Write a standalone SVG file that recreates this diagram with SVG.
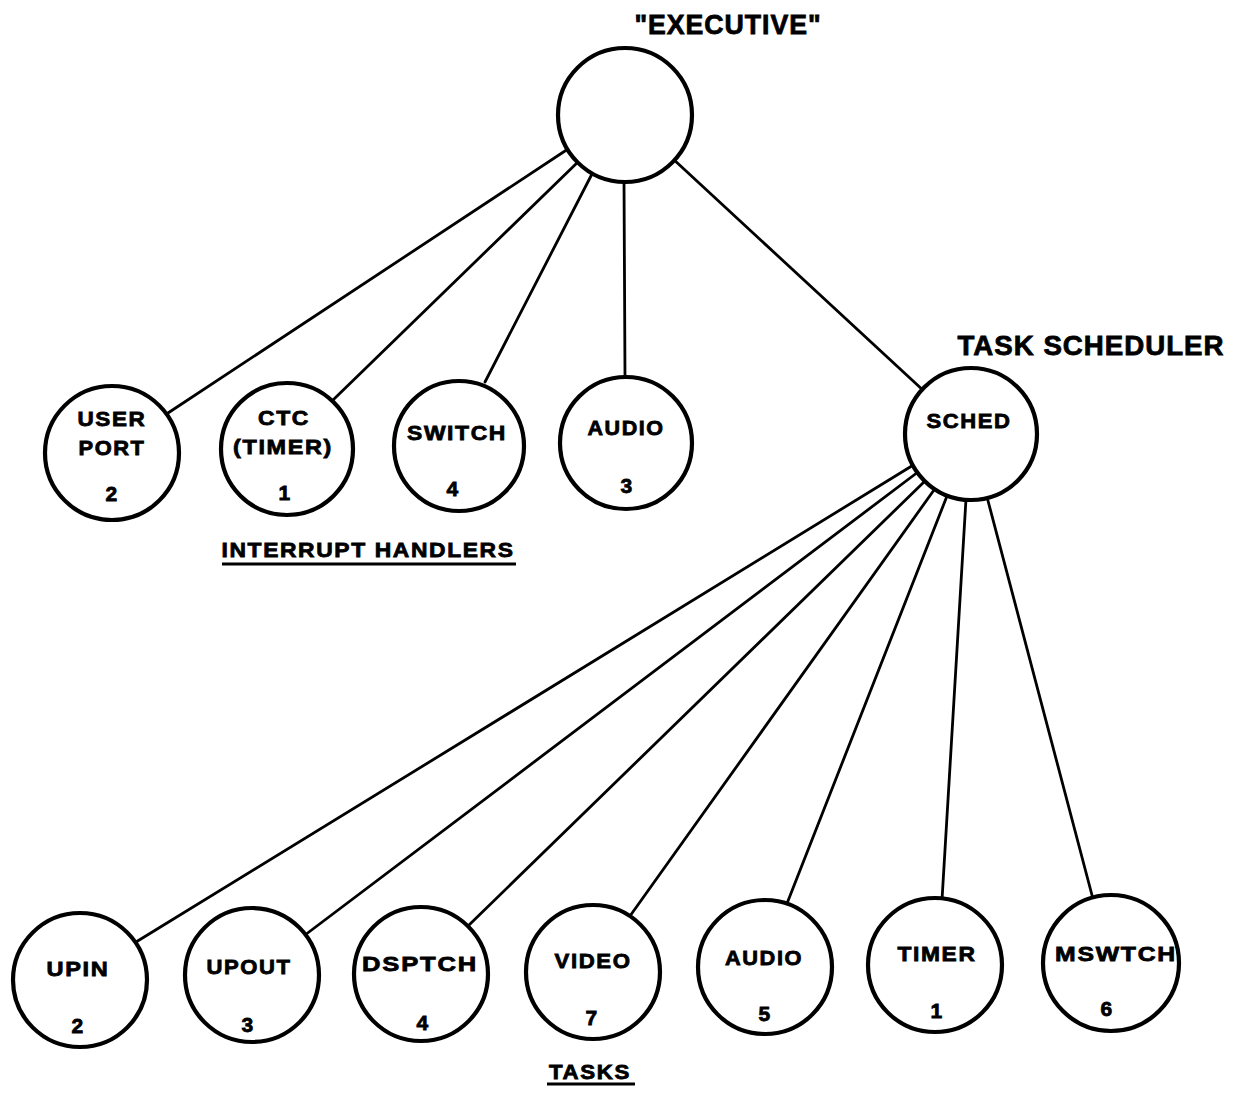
<svg xmlns="http://www.w3.org/2000/svg" width="1249" height="1094" viewBox="0 0 1249 1094">
<style>
.n{fill:#fff;stroke:#000;stroke-width:4.2}
.c line{stroke:#000;stroke-width:2.8;stroke-linecap:round}
text{font-family:"Liberation Sans",Arial,sans-serif;font-weight:bold;fill:#000;stroke:#000;stroke-width:0.8;text-anchor:middle}
.l{font-size:21px;letter-spacing:1.5px}
.t{font-size:28px;letter-spacing:1px}
</style>
<rect width="1249" height="1094" fill="#fff"/>
<g id="connectors" class="c">
<line x1="571" y1="147" x2="168" y2="413"/>
<line x1="580" y1="160" x2="333" y2="400"/>
<line x1="593" y1="172" x2="485" y2="382"/>
<line x1="624" y1="180" x2="625" y2="378"/>
<line x1="672" y1="158" x2="925" y2="392"/>
<line x1="915" y1="464" x2="136" y2="942"/>
<line x1="918" y1="472" x2="305" y2="935"/>
<line x1="925" y1="481" x2="468" y2="926"/>
<line x1="934" y1="490" x2="630" y2="916"/>
<line x1="947" y1="496" x2="786" y2="906"/>
<line x1="966" y1="499" x2="942" y2="900"/>
<line x1="987" y1="497" x2="1093" y2="899"/>
</g>
<text class="t" x="728" y="34" textLength="187" lengthAdjust="spacingAndGlyphs">"EXECUTIVE"</text>
<text class="t" x="1091" y="355" textLength="267" lengthAdjust="spacingAndGlyphs">TASK SCHEDULER</text>
<text class="l" x="368" y="557" textLength="293" lengthAdjust="spacingAndGlyphs">INTERRUPT HANDLERS</text>
<line x1="222" y1="564" x2="516" y2="564" stroke="#000" stroke-width="3"/>
<text x="590" y="1079" font-size="20" letter-spacing="1.5" textLength="82" lengthAdjust="spacingAndGlyphs">TASKS</text>
<line x1="547" y1="1084" x2="635" y2="1084" stroke="#000" stroke-width="3"/>
<g id="executive"><circle class="n" cx="625" cy="115" r="67"/></g>
<g id="userport"><circle class="n" cx="112" cy="453" r="67"/>
<text class="l" x="112" y="426" textLength="69" lengthAdjust="spacingAndGlyphs">USER</text>
<text class="l" x="112" y="455" textLength="67" lengthAdjust="spacingAndGlyphs">PORT</text>
<text class="l" x="112" y="501">2</text></g>
<g id="ctc"><circle class="n" cx="287" cy="449" r="66"/>
<text class="l" x="284" y="425" textLength="52" lengthAdjust="spacingAndGlyphs">CTC</text>
<text class="l" x="283" y="454" textLength="100" lengthAdjust="spacingAndGlyphs">(TIMER)</text>
<text class="l" x="285" y="500">1</text></g>
<g id="switch"><circle class="n" cx="459" cy="446" r="65"/>
<text class="l" x="457" y="440" textLength="100" lengthAdjust="spacingAndGlyphs">SWITCH</text>
<text class="l" x="453" y="496">4</text></g>
<g id="audio1"><circle class="n" cx="626" cy="443" r="66"/>
<text class="l" x="626" y="435" textLength="77" lengthAdjust="spacingAndGlyphs">AUDIO</text>
<text class="l" x="627" y="493">3</text></g>
<g id="sched"><circle class="n" cx="971" cy="434" r="66"/>
<text class="l" x="969" y="428" textLength="85" lengthAdjust="spacingAndGlyphs">SCHED</text></g>
<g id="upin"><circle class="n" cx="80" cy="980" r="67"/>
<text class="l" x="78" y="976" textLength="63" lengthAdjust="spacingAndGlyphs">UPIN</text>
<text class="l" x="78" y="1033">2</text></g>
<g id="upout"><circle class="n" cx="252" cy="975" r="67"/>
<text class="l" x="249" y="974" textLength="85" lengthAdjust="spacingAndGlyphs">UPOUT</text>
<text class="l" x="248" y="1032">3</text></g>
<g id="dsptch"><circle class="n" cx="421" cy="974" r="67"/>
<text class="l" x="420" y="971" textLength="116" lengthAdjust="spacingAndGlyphs">DSPTCH</text>
<text class="l" x="423" y="1030">4</text></g>
<g id="video"><circle class="n" cx="593" cy="972" r="67"/>
<text class="l" x="593" y="968" textLength="77" lengthAdjust="spacingAndGlyphs">VIDEO</text>
<text class="l" x="592" y="1025">7</text></g>
<g id="audio2"><circle class="n" cx="765" cy="967" r="67"/>
<text class="l" x="764" y="965" textLength="78" lengthAdjust="spacingAndGlyphs">AUDIO</text>
<text class="l" x="765" y="1021">5</text></g>
<g id="timer"><circle class="n" cx="935" cy="965" r="67"/>
<text class="l" x="937" y="961" textLength="79" lengthAdjust="spacingAndGlyphs">TIMER</text>
<text class="l" x="937" y="1018">1</text></g>
<g id="mswtch"><circle class="n" cx="1111" cy="963" r="68"/>
<text class="l" x="1116" y="961" textLength="122" lengthAdjust="spacingAndGlyphs">MSWTCH</text>
<text class="l" x="1107" y="1016">6</text></g>
</svg>
